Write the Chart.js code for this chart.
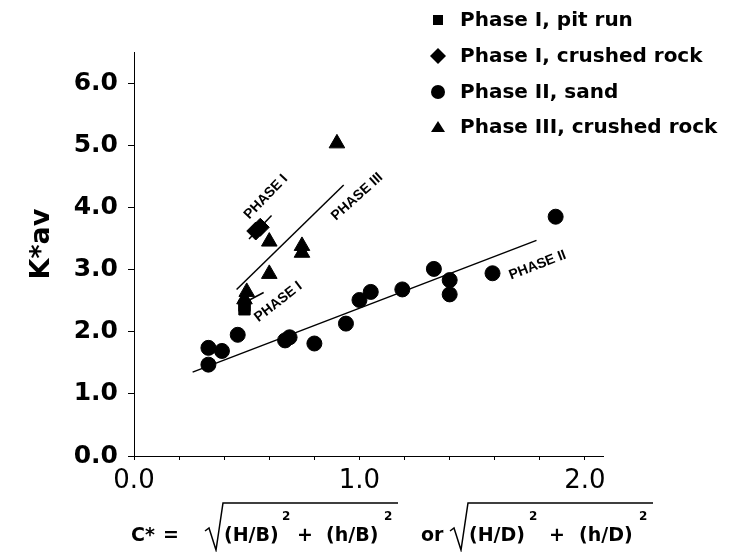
<!DOCTYPE html>
<html>
<head>
<meta charset="utf-8">
<script src="https://cdn.jsdelivr.net/npm/chart.js@4/dist/chart.umd.min.js"></script>
<style>
  html, body { margin: 0; padding: 0; background: #fff; }
  #wrap { width: 733px; height: 552px; }
</style>
</head>
<body>
<div id="wrap"><canvas id="grafico"></canvas></div>
<script>
// valores
const pitRunX = [0.49, 0.49];
const pitRunY = [2.42, 2.36];

const crushedIX = [0.54, 0.56];
const crushedIY = [3.62, 3.68];

const sandX = [0.33, 0.39, 0.33, 0.46, 0.67, 0.69, 0.80, 0.94, 1.00, 1.05, 1.19, 1.33, 1.40, 1.40, 1.59, 1.87];
const sandY = [1.74, 1.69, 1.47, 1.95, 1.86, 1.91, 1.81, 2.13, 2.51, 2.64, 2.68, 3.01, 2.83, 2.60, 2.94, 3.85];

const crushedIIIX = [0.90, 0.60, 0.745, 0.745, 0.60, 0.50, 0.49];
const crushedIIIY = [5.03, 3.45, 3.38, 3.27, 2.93, 2.64, 2.52];

// retas de ajuste (extremos)
const fitIIX = [0.26, 1.785];
const fitIIY = [1.35, 3.47];
const fitIIIX = [0.455, 0.93];
const fitIIIY = [2.68, 4.36];
const fitICrushedX = [0.51, 0.61];
const fitICrushedY = [3.49, 3.87];
const fitIPitX = [0.47, 0.575];
const fitIPitY = [2.43, 2.63];

const legendLabels = ["Phase I, pit run", "Phase I, crushed rock", "Phase II, sand", "Phase III, crushed rock"];
const xTickLabels = ["0.0", "1.0", "2.0"];
const yTickLabels = ["0.0", "1.0", "2.0", "3.0", "4.0", "5.0", "6.0"];

function pts(xs, ys) {
  return xs.map((x, i) => ({ x: x, y: ys[i] }));
}

function fitLine(xs, ys) {
  return {
    type: "line",
    data: pts(xs, ys),
    borderColor: "#000",
    borderWidth: 1.5,
    pointRadius: 0,
    fill: false,
    showLine: true,
  };
}

// rotulos das retas, em unidades dos dados
const phaseLabels = [
  { text: "PHASE I", x: 0.585, y: 4.17, angle: -46 },
  { text: "PHASE III", x: 0.99, y: 4.17, angle: -42 },
  { text: "PHASE I", x: 0.64, y: 2.48, angle: -38 },
  { text: "PHASE II", x: 1.79, y: 3.07, angle: -21 },
];

const textos = {
  id: "textos",
  afterDraw(chart) {
    const ctx = chart.ctx;
    const xs = chart.scales.x;
    const ys = chart.scales.y;
    ctx.save();
    ctx.fillStyle = "#000";
    ctx.strokeStyle = "#000";

    // titulo do eixo y
    ctx.save();
    ctx.translate(42, 244);
    ctx.rotate(-Math.PI / 2);
    ctx.font = "bold 27px 'DejaVu Sans'";
    ctx.textAlign = "center";
    ctx.textBaseline = "middle";
    ctx.fillText("K*av", 0, 0);
    ctx.restore();

    // rotulos das fases
    ctx.font = "bold 14px Arial";
    ctx.textAlign = "center";
    ctx.textBaseline = "middle";
    phaseLabels.forEach(l => {
      ctx.save();
      ctx.translate(xs.getPixelForValue(l.x), ys.getPixelForValue(l.y));
      ctx.rotate(l.angle * Math.PI / 180);
      ctx.fillText(l.text, 0, 0);
      ctx.restore();
    });

    // legenda
    const legY = [20, 56, 92, 127];
    ctx.font = "bold 20px 'DejaVu Sans'";
    ctx.textAlign = "left";
    ctx.textBaseline = "middle";
    legendLabels.forEach((t, i) => {
      const y = legY[i];
      const mx = 438;
      ctx.beginPath();
      if (i === 0) {
        ctx.rect(mx - 5, y - 5, 10, 10);
      } else if (i === 1) {
        ctx.moveTo(mx, y - 8); ctx.lineTo(mx + 8, y); ctx.lineTo(mx, y + 8); ctx.lineTo(mx - 8, y); ctx.closePath();
      } else if (i === 2) {
        ctx.arc(mx, y, 7, 0, Math.PI * 2);
      } else {
        ctx.moveTo(mx, y - 6); ctx.lineTo(mx + 7, y + 5); ctx.lineTo(mx - 7, y + 5); ctx.closePath();
      }
      ctx.fill();
      ctx.fillText(t, 460, y + 1);
    });

    // titulo do eixo x (formula)
    const base = 541;
    ctx.textBaseline = "alphabetic";
    ctx.font = "bold 19px 'DejaVu Sans'";
    ctx.fillText("C*", 131, base);
    ctx.fillText("=", 163, base);
    ctx.fillText("(H/B)", 224, base);
    ctx.fillText("+", 297, base);
    ctx.fillText("(h/B)", 326, base);
    ctx.fillText("or", 421, base);
    ctx.fillText("(H/D)", 469, base);
    ctx.fillText("+", 549, base);
    ctx.fillText("(h/D)", 579, base);
    ctx.font = "bold 12px 'DejaVu Sans'";
    ctx.fillText("2", 282, 520);
    ctx.fillText("2", 384, 520);
    ctx.fillText("2", 529, 520);
    ctx.fillText("2", 639, 520);
    ctx.lineWidth = 1.5;
    [[205, 398], [450, 653]].forEach(r => {
      const x0 = r[0];
      ctx.beginPath();
      ctx.moveTo(x0, 531);
      ctx.lineTo(x0 + 4, 528);
      ctx.lineTo(x0 + 11, 550);
      ctx.lineTo(x0 + 18, 503);
      ctx.lineTo(r[1], 503);
      ctx.stroke();
    });
    ctx.restore();
  }
};

new Chart(document.getElementById("grafico"), {
  type: "scatter",
  data: {
    datasets: [
      { label: legendLabels[0], data: pts(pitRunX, pitRunY), pointStyle: "rect", pointRadius: 8, backgroundColor: "#000", borderColor: "#000" },
      { label: legendLabels[1], data: pts(crushedIX, crushedIY), pointStyle: "rectRot", pointRadius: 9, backgroundColor: "#000", borderColor: "#000" },
      { label: legendLabels[2], data: pts(sandX, sandY), pointStyle: "circle", pointRadius: 7.5, backgroundColor: "#000", borderColor: "#000" },
      { label: legendLabels[3], data: pts(crushedIIIX, crushedIIIY), pointStyle: "triangle", pointRadius: 9, backgroundColor: "#000", borderColor: "#000" },
      fitLine(fitIIX, fitIIY),
      fitLine(fitIIIX, fitIIIY),
      fitLine(fitICrushedX, fitICrushedY),
      fitLine(fitIPitX, fitIPitY),
    ],
  },
  options: {
    responsive: true,
    maintainAspectRatio: false,
    animation: false,
    layout: { padding: { top: 52, right: 130, left: 0, bottom: 0 } },
    plugins: {
      legend: { display: false },
      tooltip: { enabled: false },
    },
    scales: {
      x: {
        type: "linear",
        min: 0,
        max: 2.08,
        afterFit: s => { s.height = 96; },
        border: { color: "#000", width: 1 },
        grid: { display: true, drawOnChartArea: false, drawTicks: true, tickLength: 4, color: "#000" },
        ticks: {
          stepSize: 0.2,
          includeBounds: false,
          autoSkip: false,
          maxRotation: 0,
          padding: 6,
          color: "#000",
          font: { family: "DejaVu Sans", size: 26 },
          callback: v => {
            const i = Math.round(v);
            return Math.abs(v - i) < 1e-6 ? xTickLabels[i] : "";
          },
        },
      },
      y: {
        type: "linear",
        min: 0,
        max: 6.5,
        afterFit: s => { s.width = 134; },
        border: { color: "#000", width: 1 },
        grid: { display: true, drawOnChartArea: false, drawTicks: true, tickLength: 6, color: "#000" },
        ticks: {
          stepSize: 1,
          includeBounds: false,
          padding: 10,
          color: "#000",
          font: { family: "DejaVu Sans", size: 25, weight: "bold" },
          callback: v => yTickLabels[Math.round(v)],
        },
      },
    },
  },
  plugins: [textos],
});
</script>
</body>
</html>
